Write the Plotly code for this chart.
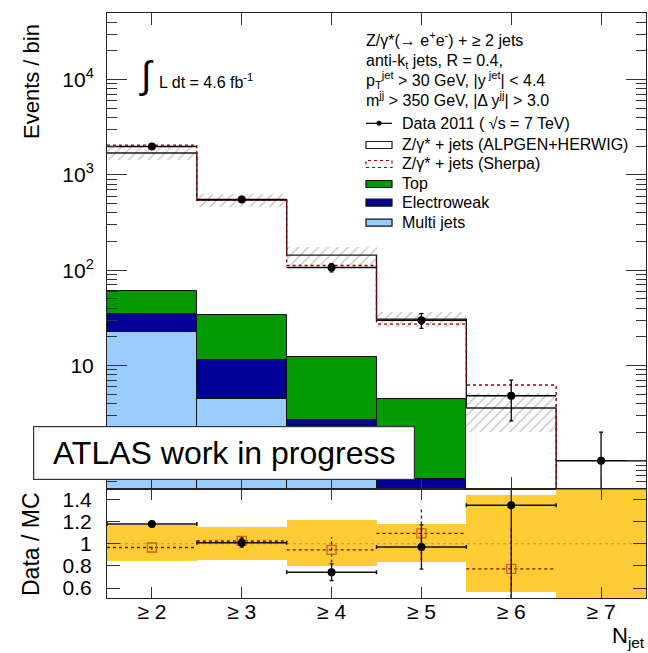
import numpy as np
import plotly.graph_objects as go

# ---------------- data ----------------
bins = ["≥ 2", "≥ 3", "≥ 4", "≥ 5", "≥ 6", "≥ 7"]
njet = [2, 3, 4, 5, 6, 7]

data = [1990, 552, 106.6, 29.8, 4.82, 1.0]
data_err = [45, 22, 10.6, 5.3, 2.2, 1.0]
alpgen = [1700, 545, 144, 30.7, 3.58, 0]
sherpa = [2055, 541, 112, 27.2, 6.24, 0]
multijet = [22.3, 4.5, 1.0, 0, 0, 0]
electroweak = [12.7, 6.8, 1.7, 0.65, 0, 0]
top = [25.5, 22.3, 9.6, 3.83, 0, 0]

band_lo = [0.836, 0.852, 0.797, 0.834, 0.564, 0.0]
band_hi = [1.164, 1.148, 1.206, 1.173, 1.439, 2.0]

ratio_data = [1.179, 1.010, 0.743, 0.970, 1.348, None]
ratio_data_err = [0.02, 0.04, 0.075, 0.20, 0.90, None]
ratio_sherpa = [0.966, 1.025, 0.945, 1.094, 0.773, None]
ratio_sherpa_err = [0.02, 0.04, 0.115, 0.245, 0.37, None]

# ---------------- geometry ----------------
W, H = 648, 653
L, R, T, B = 107, 646, 13, 598
SPLIT = 0.1855
FONT = "Liberation Sans, Arial, sans-serif"
FLOOR = 1e-3


def px(x):
    return (x - L) / (R - L)


def py(y):
    return (B - y) / (B - T)


x = np.array(njet, dtype=float)
edges = np.append(x - 0.5, x[-1] + 0.5)

fig = go.Figure()

# hatched ALPGEN uncertainty band
alp = np.array(alpgen, dtype=float)
hl = alp * np.array(band_lo)
hh = alp * np.array(band_hi)
mask = alp > 0
fig.add_trace(go.Bar(
    x=x[mask], base=hl[mask], y=(hh - hl)[mask], width=1.0,
    marker=dict(color="rgba(0,0,0,0)", line=dict(width=0),
                pattern=dict(shape="/", fgcolor="#8c8c8c", bgcolor="rgba(0,0,0,0)",
                             size=7, solidity=0.2)),
    xaxis="x", yaxis="y", showlegend=False, hoverinfo="skip"))

# stacked backgrounds
mj = np.array(multijet, dtype=float)
ew = np.array(electroweak, dtype=float)
tp = np.array(top, dtype=float)
c1 = mj
c2 = mj + ew
c3 = mj + ew + tp
for lo, hi, col in [(np.zeros_like(mj), c1, "#99ccff"),
                    (c1, c2, "#000099"),
                    (c2, c3, "#009900")]:
    base = np.maximum(lo, 0.01)
    m = hi > 0
    fig.add_trace(go.Bar(
        x=x[m], base=base[m], y=(hi - base)[m], width=1.0,
        marker=dict(color=col, line=dict(color="#111111", width=1)),
        xaxis="x", yaxis="y", showlegend=False, hoverinfo="skip"))


# ALPGEN and Sherpa histograms (step lines)
def steps(vals):
    v = np.maximum(np.array(vals, dtype=float), FLOOR)
    return list(edges), list(np.append(v, v[-1]))


ex, ey = steps(alpgen)
fig.add_trace(go.Scatter(x=ex, y=ey, mode="lines", line=dict(color="#1a1a1a", width=1.4, shape="hv"),
                         xaxis="x", yaxis="y", showlegend=False, hoverinfo="skip"))
ex, ey = steps(sherpa)
fig.add_trace(go.Scatter(x=ex, y=ey, mode="lines",
                         line=dict(color="#990000", width=1.4, shape="hv", dash="dot"),
                         xaxis="x", yaxis="y", showlegend=False, hoverinfo="skip"))

# data
d = np.array(data, dtype=float)
de = np.array(data_err, dtype=float)
fig.add_trace(go.Scatter(
    x=x, y=d, mode="markers",
    marker=dict(color="black", size=8),
    error_x=dict(type="constant", value=0.5, width=0, thickness=1.6, color="black"),
    error_y=dict(type="data", array=de, arrayminus=np.minimum(de, 0.99 * d), width=2,
                 thickness=1.3, color="black"),
    xaxis="x", yaxis="y", showlegend=False, hoverinfo="skip"))

# ---------------- ratio panel ----------------
blo = np.array(band_lo)
bhi = np.array(band_hi)
fig.add_trace(go.Bar(
    x=x, base=blo, y=bhi - blo, width=1.0,
    marker=dict(color="#ffcc33", line=dict(width=0)),
    xaxis="x2", yaxis="y2", showlegend=False, hoverinfo="skip"))

fig.add_trace(go.Scatter(x=[edges[0], edges[-1]], y=[1, 1], mode="lines",
                         line=dict(color="#999999", width=1, dash="dot"),
                         xaxis="x2", yaxis="y2", showlegend=False, hoverinfo="skip"))

# Sherpa ratio with dotted error lines
sx, sy = [], []
for xi, r, e in zip(x, ratio_sherpa, ratio_sherpa_err):
    if r is None:
        continue
    sx += [xi - 0.5, xi + 0.5, None, xi, xi, None]
    sy += [r, r, None, r - e, r + e, None]
fig.add_trace(go.Scatter(x=sx, y=sy, mode="lines", line=dict(color="#8b0000", width=1.4, dash="dot"),
                         xaxis="x2", yaxis="y2", showlegend=False, hoverinfo="skip"))
ms = [i for i, r in enumerate(ratio_sherpa) if r is not None]
fig.add_trace(go.Scatter(
    x=x[ms], y=[ratio_sherpa[i] for i in ms], mode="markers",
    marker=dict(symbol="square-open", size=9, color="#c8641e", line=dict(width=1.3)),
    xaxis="x2", yaxis="y2", showlegend=False, hoverinfo="skip"))

md = [i for i, r in enumerate(ratio_data) if r is not None]
fig.add_trace(go.Scatter(
    x=x[md], y=[ratio_data[i] for i in md], mode="markers",
    marker=dict(color="black", size=8),
    error_x=dict(type="constant", value=0.5, width=2, thickness=1.5, color="#111111"),
    error_y=dict(type="data", array=[ratio_data_err[i] for i in md], width=2,
                 thickness=1.3, color="#111111"),
    xaxis="x2", yaxis="y2", showlegend=False, hoverinfo="skip"))

# ---------------- axes ----------------
minor_vals = [k * 10.0 ** n for n in range(-1, 5) for k in range(2, 10)]
axis_common = dict(showline=True, linecolor="#222222", linewidth=1, mirror="ticks",
                   ticks="inside", tickcolor="#333333", showgrid=False, zeroline=False,
                   tickfont=dict(family=FONT, size=21, color="black"))

fig.update_layout(
    width=W, height=H,
    margin=dict(l=L, r=W - R, t=T, b=H - B, pad=0),
    paper_bgcolor="white", plot_bgcolor="white",
    barmode="overlay", bargap=0,
    showlegend=False,
    font=dict(family=FONT, color="black"),
    xaxis=dict(domain=[0, 1], anchor="y", range=[1.5, 7.5], tickmode="array", tickvals=njet,
               showticklabels=False, ticklen=12, **axis_common),
    yaxis=dict(domain=[SPLIT, 1], anchor="x", type="log",
               range=[np.log10(0.5), np.log10(5e4)],
               tickmode="array", tickvals=[1, 10, 100, 1000, 10000],
               ticktext=["", "10", "10<sup>2</sup>", "10<sup>3</sup>", "10<sup>4</sup>"],
               ticklen=20, ticklabelstandoff=8,
               minor=dict(tickmode="array", tickvals=minor_vals, ticks="inside", ticklen=10,
                          tickcolor="#333333"),
               **axis_common),
    xaxis2=dict(domain=[0, 1], anchor="y2", range=[1.5, 7.5], tickmode="array", tickvals=njet,
                ticktext=bins, ticklen=11, ticklabelstandoff=-5, **axis_common),
    yaxis2=dict(domain=[0, SPLIT], anchor="x2", range=[0.51, 1.49], tickmode="array",
                tickvals=[0.6, 0.8, 1.0, 1.2, 1.4], ticktext=["0.6", "0.8", "1", "1.2", "1.4"],
                ticklen=13, ticklabelstandoff=10, **axis_common),
)

# ---------------- texts ----------------
ann = []


def text(xp, yp, s, size=16, xanchor="left", yanchor="middle", **kw):
    ann.append(dict(x=px(xp), y=py(yp), xref="paper", yref="paper", text=s, showarrow=False,
                    xanchor=xanchor, yanchor=yanchor,
                    font=dict(family=FONT, size=size, color="black"), **kw))


text(31, 82, "Events / bin", size=22, xanchor="center", textangle=-90)
text(31, 544, "Data / MC", size=23, xanchor="center", textangle=-90)
text(647, 637, "N<sub>jet</sub>", size=22, xanchor="right")

text(146, 76, "∫", size=38, xanchor="center")
text(157, 81, "L dt = 4.6 fb<sup>-1</sup>", size=16)

text(364, 39, "Z/γ*(→ e<sup>+</sup>e<sup>-</sup>) + ≥ 2 jets", size=16)
text(364, 61, "anti-k<sub>t</sub> jets, R = 0.4,", size=16)
text(364, 80, "p<sub>T</sub><sup>jet</sup> > 30 GeV, |y<sup> jet</sup>| < 4.4", size=16)
text(364, 99, "m<sup>jj</sup> > 350 GeV, |Δ y<sup>jj</sup>| > 3.0", size=16)

leg_y = [123.3, 145, 164, 184, 202.7, 222.7]
leg_txt = ["Data 2011 ( √s = 7 TeV)", "Z/γ* + jets (ALPGEN+HERWIG)", "Z/γ* + jets (Sherpa)",
           "Top", "Electroweak", "Multi jets"]
for yy, s in zip(leg_y, leg_txt):
    text(400, yy, s, size=16)

ann.append(dict(x=px(224), y=py(452.5), xref="paper", yref="paper", text="ATLAS work in progress",
                showarrow=False, xanchor="center", yanchor="middle", width=380, height=52,
                bgcolor="white", bordercolor="#333333", borderwidth=1.2, borderpad=0,
                font=dict(family=FONT, size=32, color="black")))
fig.update_layout(annotations=ann)

# legend symbols
shapes = []


def rect(y0, y1, fill, line_col, dash="solid"):
    shapes.append(dict(type="rect", xref="paper", yref="paper", x0=px(366), x1=px(392),
                       y0=py(y1), y1=py(y0), fillcolor=fill,
                       line=dict(color=line_col, width=1.2, dash=dash), layer="above"))


shapes.append(dict(type="line", xref="paper", yref="paper", x0=px(366), x1=px(392),
                   y0=py(123.3), y1=py(123.3), line=dict(color="black", width=1.2)))
shapes.append(dict(type="circle", xref="paper", yref="paper", x0=px(376.5), x1=px(381.5),
                   y0=py(125.8), y1=py(120.8), fillcolor="black", line=dict(color="black", width=0)))
rect(141.5, 148.5, "white", "#1a1a1a")
rect(160.5, 167.5, "white", "#990000", "dot")
rect(180.5, 187.5, "#009900", "#111111")
rect(199.2, 206.2, "#000099", "#111111")
rect(219.2, 226.2, "#99ccff", "#111111")
fig.update_layout(shapes=shapes)

fig.write_html("out.html")
